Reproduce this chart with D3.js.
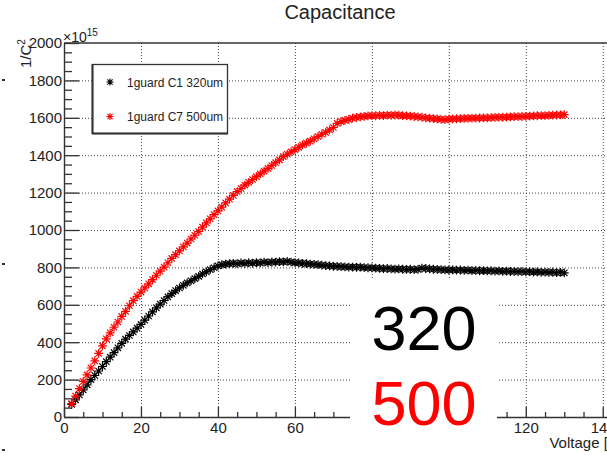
<!DOCTYPE html>
<html>
<head>
<meta charset="utf-8">
<script src="https://cdn.jsdelivr.net/npm/d3@7"></script>
<style>
  body { margin: 0; background: #fff; }
  svg { display: block; font-family: "Liberation Sans", Arial, sans-serif; }
</style>
</head>
<body>
<svg id="chart" width="607" height="455"></svg>
<script>
// Bias voltage scan points (V)
const voltage = [
  2,3,4,5,6,7,8,9,10,11,12,13,14,15,16,17,18,19,20,21,22,23,24,25,26,27,28,29,30,31,
  32,33,34,35,36,37,38,39,40,41,42,43,44,45,46,47,48,49,50,51,52,53,54,55,56,57,58,59,60,61,
  62,63,64,65,66,67,68,69,70,71,72,73,74,75,76,77,78,79,80,81,82,83,84,85,86,87,88,89,90,91,
  92,93,94,95,96,97,98,99,100,101,102,103,104,105,106,107,108,109,110,111,112,113,114,115,116,117,118,119,120,121,
  122,123,124,125,126,127,128,129,130
];

// 1/C^2 (x1e15) for the 320 um sensor
const invC2_320 = [
  68,92,118,145,172,200,222,246,270,296,320,344,370,394,416,436,455,475,495,518,540,562,584,604,623,642,660,676,690,704,
  717,728,740,752,765,776,788,798,808,815,818,820,822,820,824,822,825,823,826,824,828,826,829,828,831,830,832,828,826,824,
  822,820,818,816,815,812,810,808,806,805,804,803,801,802,800,801,799,798,797,796,795,793,794,792,791,792,790,789,790,788,
  789,796,794,792,790,789,788,787,786,787,785,786,784,785,783,784,782,783,781,782,780,781,779,780,778,779,777,778,776,777,
  775,776,774,775,773,774,772,773,771
];

// 1/C^2 (x1e15) for the 500 um sensor
const invC2_500 = [
  72,112,152,190,225,262,300,340,380,418,450,480,508,538,565,595,622,645,668,690,712,735,758,780,802,825,848,868,888,910,
  930,952,972,992,1015,1038,1060,1082,1102,1122,1145,1165,1185,1205,1222,1240,1255,1270,1285,1300,1315,1330,1345,1360,1375,1392,1405,1418,1430,1442,
  1455,1465,1475,1488,1500,1512,1522,1535,1548,1570,1580,1586,1592,1598,1602,1605,1608,1610,1612,1611,1613,1612,1614,1613,1615,1614,1612,1610,1609,1607,
  1605,1603,1600,1598,1596,1594,1592,1590,1593,1594,1595,1596,1597,1597,1598,1598,1599,1600,1600,1601,1602,1602,1603,1604,1605,1606,1606,1607,1608,1609,
  1610,1611,1612,1612,1613,1614,1615,1616,1617
];

const seriesNames = ["1guard C1 320um", "1guard C7 500um"];
const seriesColors = ["#000000", "#ff0000"];
const xMajorTicks = [0, 20, 40, 60, 80, 100, 120, 140];
const xHiddenLabels = [80, 100];   // covered by the thickness panel
const yMajorTicks = [0, 200, 400, 600, 800, 1000, 1200, 1400, 1600, 1800, 2000];
const thicknessLabels = ["320", "500"];

const svg = d3.select("#chart");
const frame = { left: 64, top: 43, right: 622, bottom: 417 };

const x = d3.scaleLinear().domain([0, 145]).range([frame.left, frame.right]);
const y = d3.scaleLinear().domain([0, 2000]).range([frame.bottom, frame.top]);

const ink = "#333";
const fontFamily = "Liberation Sans, Arial, sans-serif";

// Dotted grid
const grid = svg.append("g")
  .attr("stroke", "#444").attr("stroke-width", 1).attr("stroke-dasharray", "1,2");
grid.selectAll("line.h").data(yMajorTicks.filter(v => v > 0 && v < 2000)).join("line")
  .attr("x1", frame.left).attr("x2", frame.right)
  .attr("y1", d => y(d) + 0.5).attr("y2", d => y(d) + 0.5);
grid.selectAll("line.v").data(xMajorTicks.filter(v => v > 0)).join("line")
  .attr("x1", d => x(d) + 0.5).attr("x2", d => x(d) + 0.5)
  .attr("y1", frame.top).attr("y2", frame.bottom);

// Top frame edge
svg.append("line")
  .attr("x1", frame.left).attr("x2", frame.right)
  .attr("y1", frame.top).attr("y2", frame.top)
  .attr("stroke", ink).attr("stroke-width", 1.4);

// Y axis (ticks pointing into the frame)
const yMinor = d3.range(0, 2001, 50).filter(v => v % 200 !== 0);
svg.append("g").attr("transform", `translate(${frame.left},0)`)
  .call(d3.axisLeft(y).tickValues(yMinor).tickSize(-8).tickFormat(""))
  .call(g => g.select(".domain").remove())
  .call(g => g.selectAll("line").attr("stroke", ink).attr("stroke-width", 1.3));
svg.append("g").attr("transform", `translate(${frame.left},0)`)
  .call(d3.axisLeft(y).tickValues(yMajorTicks).tickSize(-15).tickSizeOuter(0).tickPadding(2)
    .tickFormat(d3.format("d")))
  .call(g => g.select(".domain").attr("stroke", ink).attr("stroke-width", 1.4))
  .call(g => g.selectAll("line").attr("stroke", ink).attr("stroke-width", 1.3))
  .call(g => g.selectAll("text").attr("font-size", 15).attr("fill", "#222")
    .attr("font-family", fontFamily));

// X axis (ticks pointing into the frame)
const xMinor = d3.range(0, 146, 5).filter(v => v % 20 !== 0);
svg.append("g").attr("transform", `translate(0,${frame.bottom})`)
  .call(d3.axisBottom(x).tickValues(xMinor).tickSize(-5).tickFormat(""))
  .call(g => g.select(".domain").remove())
  .call(g => g.selectAll("line").attr("stroke", ink).attr("stroke-width", 1.3));
svg.append("g").attr("transform", `translate(0,${frame.bottom})`)
  .call(d3.axisBottom(x).tickValues(xMajorTicks).tickSize(-10).tickSizeOuter(0).tickPadding(5)
    .tickFormat(d => xHiddenLabels.includes(d) ? "" : d3.format("d")(d)))
  .call(g => g.select(".domain").attr("stroke", ink).attr("stroke-width", 1.4))
  .call(g => g.selectAll("line").attr("stroke", ink).attr("stroke-width", 1.3))
  .call(g => g.selectAll("text").attr("font-size", 15).attr("fill", "#222")
    .attr("font-family", fontFamily));

// Asterisk marker (ROOT style 3)
function asterisk(r) {
  const d = r * 0.72;
  return `M${-r},0H${r}M0,${-r}V${r}M${-d},${-d}L${d},${d}M${-d},${d}L${d},${-d}`;
}
const markerPath = asterisk(4.4);

const series = [invC2_320, invC2_500];
series.forEach((vals, i) => {
  svg.append("g")
    .attr("stroke", seriesColors[i]).attr("stroke-width", 1.2).attr("fill", "none")
    .selectAll("path").data(vals).join("path")
    .attr("d", markerPath)
    .attr("transform", (v, j) => `translate(${x(voltage[j])},${y(v)})`);
});

// Legend
const legend = svg.append("g");
legend.append("rect")
  .attr("x", 92.5).attr("y", 64.5).attr("width", 135).attr("height", 69)
  .attr("fill", "#fff").attr("stroke", ink).attr("stroke-width", 1.3);
legend.append("line").attr("x1", 92.5).attr("x2", 92.5).attr("y1", 64).attr("y2", 134)
  .attr("stroke", ink).attr("stroke-width", 2);
legend.append("line").attr("x1", 92).attr("x2", 228).attr("y1", 133.5).attr("y2", 133.5)
  .attr("stroke", ink).attr("stroke-width", 2);
seriesNames.forEach((name, i) => {
  const cy = 82 + i * 34.5;
  legend.append("path").attr("d", asterisk(3.6))
    .attr("transform", `translate(110,${cy})`)
    .attr("stroke", seriesColors[i]).attr("stroke-width", 1.1).attr("fill", "none");
  legend.append("text").attr("x", 127).attr("y", cy + 4.5)
    .attr("font-size", 12).attr("fill", "#222").text(name);
});

// Thickness annotation panel
svg.append("rect").attr("x", 350).attr("y", 279).attr("width", 147).attr("height", 176).attr("fill", "#fff");
thicknessLabels.forEach((t, i) => {
  svg.append("text").attr("x", 424).attr("y", 350 + i * 75)
    .attr("text-anchor", "middle").attr("font-size", 63)
    .attr("fill", seriesColors[i]).text(t);
});

// Title and axis titles
svg.append("text").attr("x", 340).attr("y", 19).attr("text-anchor", "middle")
  .attr("font-size", 20).attr("fill", "#222").text("Capacitance");

svg.append("text").attr("x", frame.right).attr("y", 448).attr("text-anchor", "end")
  .attr("font-size", 15).attr("fill", "#222").text("Voltage [V]");

const yTitle = svg.append("text")
  .attr("transform", "translate(31,68) rotate(-90)")
  .attr("font-size", 15).attr("fill", "#222");
yTitle.append("tspan").text("1/C");
yTitle.append("tspan").attr("font-size", 10).attr("dy", -6).text("2");

const expo = svg.append("text").attr("x", 63).attr("y", 42).attr("font-size", 14).attr("fill", "#222");
expo.append("tspan").text("\u00d710");
expo.append("tspan").attr("font-size", 10).attr("dy", -6).text("15");

// Small edge marks
[80, 264, 450].forEach(yy => {
  svg.append("rect").attr("x", 2).attr("y", yy - 1).attr("width", 3).attr("height", 2).attr("fill", "#333");
});
</script>
</body>
</html>
